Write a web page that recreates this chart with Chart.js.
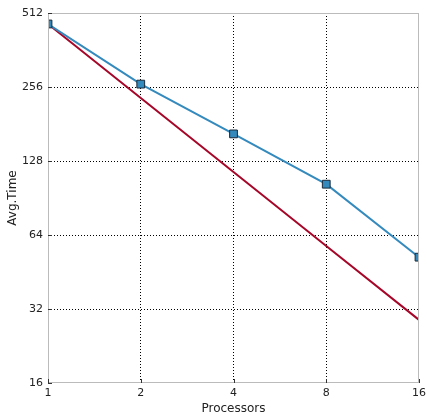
<!DOCTYPE html>
<html>
<head>
<meta charset="utf-8">
<script src="https://cdn.jsdelivr.net/npm/chart.js@4"></script>
<style>
  html, body { margin: 0; padding: 0; background: #fff; }
  #wrap { width: 427px; height: 420px; }
</style>
</head>
<body>
<div id="wrap"><canvas id="myChart" width="427" height="420"></canvas></div>
<script>
// processors and measured average time
const processors = [1, 2, 4, 8, 16];
const avgTime = [462, 263, 165, 103, 52];
// ideal scaling = time on 1 processor / p
const idealTime = [462, 231, 115.5, 57.75, 28.9];
const xTicks = [1, 2, 4, 8, 16];
const yTicks = [16, 32, 64, 128, 256, 512];

const ctx = document.getElementById("myChart");
Chart.defaults.font.family = "'DejaVu Sans', sans-serif";
Chart.defaults.color = "#222";

// hide grid lines that sit on the frame
function gridColor(first, last) {
  return (c) => (c.tick && (c.tick.value === first || c.tick.value === last)) ? "rgba(0,0,0,0)" : "#000";
}

new Chart(ctx, {
  type: "line",
  data: {
    datasets: [
      {
        label: "measured",
        data: processors.map((p, i) => ({ x: p, y: avgTime[i] })),
        borderColor: "#348ABD",
        backgroundColor: "#348ABD",
        borderWidth: 2,
        pointStyle: "rect",
        pointRadius: 5.5,
        pointBorderColor: "#1a2a3a",
        pointBorderWidth: 1,
        pointBackgroundColor: "#348ABD"
      },
      {
        label: "ideal",
        data: processors.map((p, i) => ({ x: p, y: idealTime[i] })),
        borderColor: "#A60628",
        borderWidth: 2,
        pointRadius: 0
      }
    ]
  },
  options: {
    responsive: false,
    animation: false,
    layout: { padding: { left: 0, right: 8, top: 13, bottom: 0 } },
    plugins: { legend: { display: false }, tooltip: { enabled: false } },
    scales: {
      x: {
        type: "logarithmic",
        min: 1, max: 16,
        afterBuildTicks: (s) => { s.ticks = xTicks.map(v => ({ value: v })); },
        afterFit: (s) => { s.height = 37; s.paddingLeft = 0; s.paddingRight = 0; },
        ticks: { callback: (v) => String(v), font: { size: 11 }, padding: 4, maxRotation: 0 },
        grid: { color: gridColor(1, 16), lineWidth: 1, drawTicks: false },
        border: { display: false, dash: [1, 2] },
        title: { display: true, text: "Processors", font: { size: 12 }, padding: { top: 0, bottom: 4 } }
      },
      y: {
        type: "logarithmic",
        min: 16, max: 512,
        afterBuildTicks: (s) => { s.ticks = yTicks.map(v => ({ value: v })); },
        afterFit: (s) => { s.width = 48; s.paddingTop = 0; s.paddingBottom = 0; },
        ticks: { callback: (v) => String(v), font: { size: 11 }, padding: 5 },
        grid: { color: gridColor(16, 512), lineWidth: 1, drawTicks: false },
        border: { display: false, dash: [1, 2] },
        title: { display: true, text: "Avg.Time", font: { size: 12 }, padding: { top: 6, bottom: 0 } }
      }
    }
  },
  plugins: [{
    id: "frame",
    afterDatasetsDraw(chart) {
      // light grey frame plus small inward tick marks, matplotlib style
      const a = chart.chartArea, c = chart.ctx;
      const xs = chart.scales.x, ys = chart.scales.y;
      c.save();
      c.strokeStyle = "#bbb";
      c.lineWidth = 1;
      c.strokeRect(a.left + 0.5, a.top + 0.5, a.right - a.left - 1, a.bottom - a.top - 1);
      c.strokeStyle = "#333";
      c.beginPath();
      xTicks.forEach(v => {
        const px = Math.round(xs.getPixelForValue(v)) + 0.5;
        c.moveTo(px, a.bottom); c.lineTo(px, a.bottom - 4);
      });
      yTicks.forEach(v => {
        const py = Math.round(ys.getPixelForValue(v)) + 0.5;
        c.moveTo(a.left, py); c.lineTo(a.left + 4, py);
      });
      c.stroke();
      c.restore();
    }
  }]
});
</script>
</body>
</html>
